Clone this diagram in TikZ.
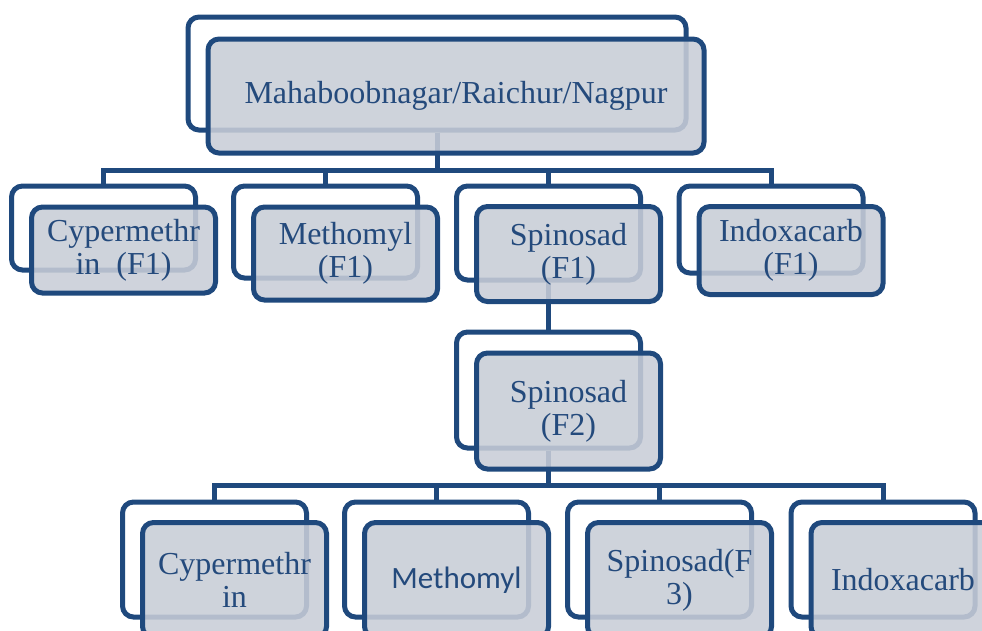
\documentclass[tikz,border=0pt]{standalone}
\usepackage{fontspec}
\setmainfont{Liberation Serif}
\newfontfamily\calfont{Carlito}
\definecolor{dblue}{RGB}{31,73,125}
\definecolor{tblue}{RGB}{36,74,124}
\definecolor{boxfill}{RGB}{200,205,215}
\tikzset{
  backframe/.style={draw=dblue, line width=5pt, rounded corners=11pt, fill=white, inner sep=0pt, minimum width=184pt},
  frontbox/.style={draw=dblue, line width=5pt, rounded corners=11pt, fill=boxfill, fill opacity=0.88, text opacity=1, text=tblue, align=center, inner sep=0pt, minimum width=184pt, font=\fontsize{32}{33}\selectfont},
  conn/.style={draw=dblue, line width=5pt}
}
\begin{document}
\begin{tikzpicture}[x=1pt,y=-1pt]
\useasboundingbox (0,0) rectangle (982,630);
\clip (0,0) rectangle (982,630);
% back frames
\node[backframe, minimum width=498pt, minimum height=113pt] (t) at (437,73.5) {};
\node[backframe, minimum height=84pt] (b1) at (103.5,228) {};
\node[backframe, minimum height=92pt] (b2) at (325.5,232) {};
\node[backframe, minimum height=94pt] (b3) at (548.5,233) {};
\node[backframe, minimum height=87pt] (b4) at (771,229.5) {};
\node[backframe, minimum height=116pt] (s2) at (548.5,390) {};
\node[backframe, minimum height=115pt] (c1) at (214.5,559.5) {};
\node[backframe, minimum height=115pt] (c2) at (436.5,559.5) {};
\node[backframe, minimum height=115pt] (c3) at (659.5,559.5) {};
\node[backframe, minimum height=115pt] (c4) at (883,559.5) {};
% connectors
\coordinate (bar1) at (437,170);
\coordinate (bar2) at (548.5,485);
\foreach \n in {b1,b2,b3,b4}{\draw[conn] (t.south) |- (\n.north |- bar1) -- (\n.north);}
\draw[conn] (b3.south) -- (s2.north);
\foreach \n in {c1,c2,c3,c4}{\draw[conn] (s2.south) |- (\n.north |- bar2) -- (\n.north);}
% front boxes
\node[frontbox, minimum width=496pt, minimum height=114pt] (tf) at (456,96) {Mahaboobnagar/Raichur/Nagpur};
\node[frontbox, minimum height=86pt] (b1f) at (123.5,250) {Cypermethr\\in\ \ (F1)};
\node[frontbox, minimum height=93pt] (b2f) at (345.5,253.5) {Methomyl\\(F1)};
\node[frontbox, minimum height=95pt] (b3f) at (568.5,254) {Spinosad\\(F1)};
\node[frontbox, minimum height=88pt] (b4f) at (791,250.5) {Indoxacarb\\(F1)};
\node[frontbox, minimum height=116pt] (s2f) at (568.5,411) {Spinosad\\(F2)};
\node[frontbox, minimum height=115pt] (c1f) at (234.5,580) {Cypermethr\\in};
\node[frontbox, minimum height=115pt, font=\calfont\fontsize{31}{33}\selectfont] (c2f) at (456.5,580) {Methomyl};
\node[frontbox, minimum height=115pt] (c3f) at (679.5,580) {Spinosad(F\\3)};
\node[frontbox, minimum height=115pt] (c4f) at (903,580) {Indoxacarb};
\end{tikzpicture}
\end{document}
